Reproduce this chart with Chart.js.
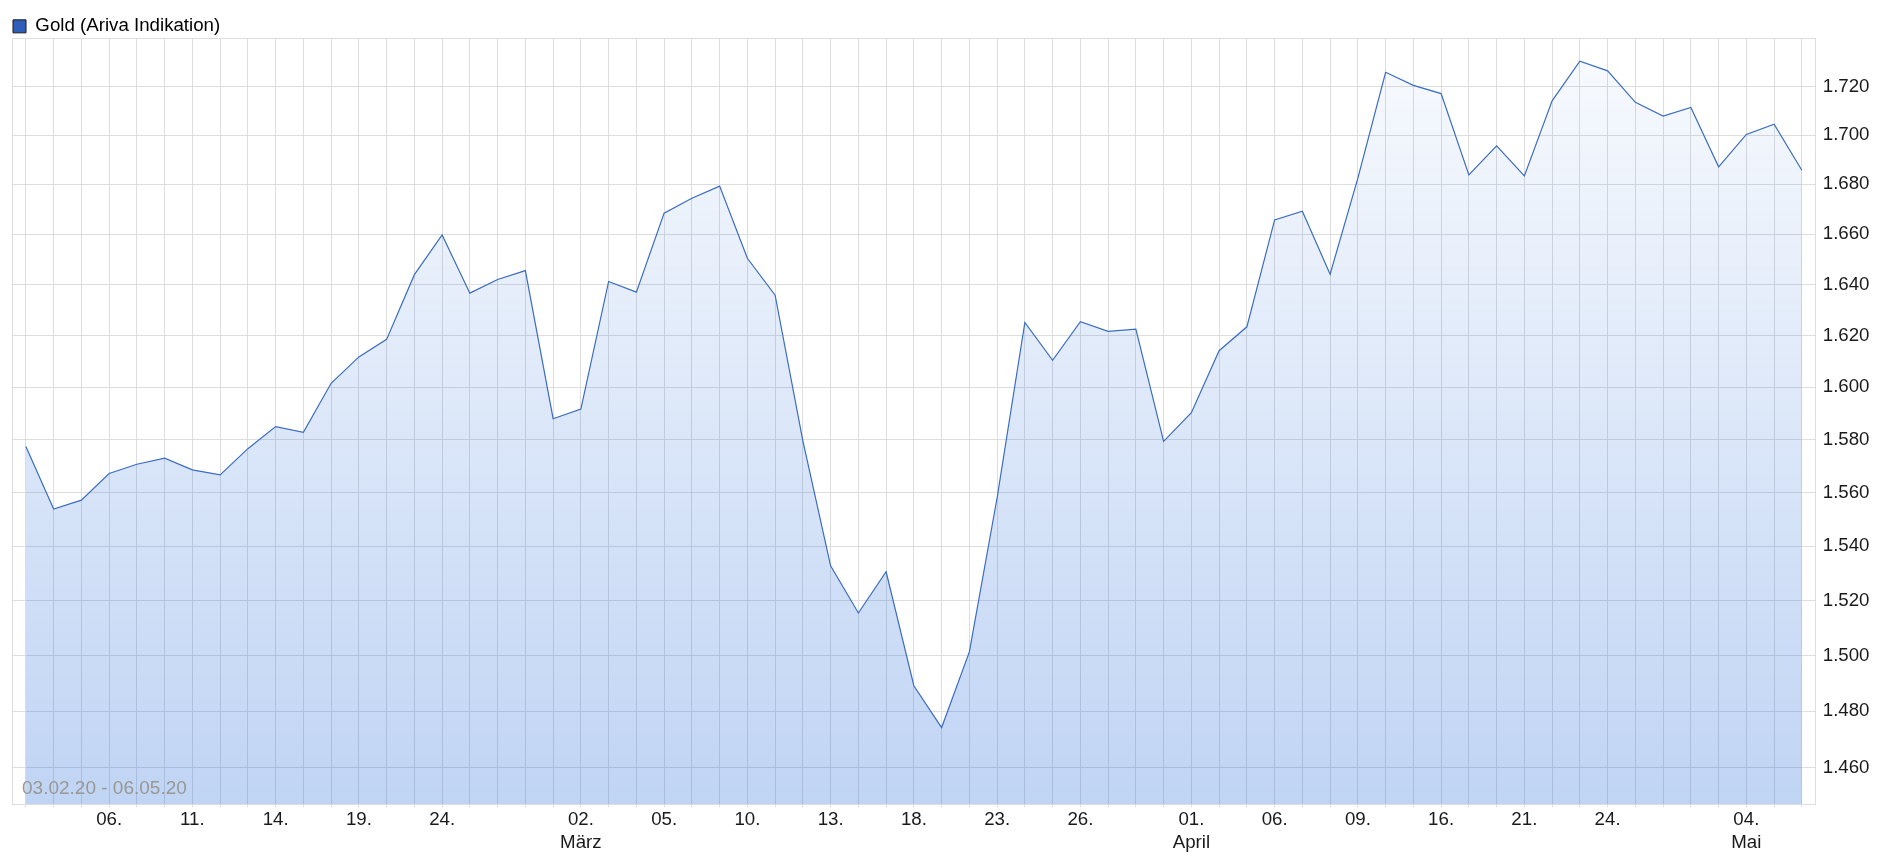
<!DOCTYPE html>
<html lang="de">
<head>
<meta charset="utf-8">
<title>Gold (Ariva Indikation)</title>
<script src="https://cdn.jsdelivr.net/npm/chart.js@4.4.1/dist/chart.umd.min.js"></script>
<style>
    html, body { margin: 0; padding: 0; background: #ffffff; }
    #chartWrap { position: relative; width: 1904px; height: 856px; }
</style>
</head>
<body>
<div id="chartWrap"><canvas id="goldChart"></canvas></div>
<script>
// Trading days 03.02.20 - 06.05.20 (German calendar)
const dates = [
    '03.02.', '04.02.', '05.02.', '06.02.', '07.02.', '10.02.', '11.02.', '12.02.', '13.02.', '14.02.',
    '17.02.', '18.02.', '19.02.', '20.02.', '21.02.', '24.02.', '25.02.', '26.02.', '27.02.', '28.02.',
    '02.03.', '03.03.', '04.03.', '05.03.', '06.03.', '09.03.', '10.03.', '11.03.', '12.03.', '13.03.',
    '16.03.', '17.03.', '18.03.', '19.03.', '20.03.', '23.03.', '24.03.', '25.03.', '26.03.', '27.03.',
    '30.03.', '31.03.', '01.04.', '02.04.', '03.04.', '06.04.', '07.04.', '08.04.', '09.04.', '14.04.',
    '15.04.', '16.04.', '17.04.', '20.04.', '21.04.', '22.04.', '23.04.', '24.04.', '27.04.', '28.04.',
    '29.04.', '30.04.', '04.05.', '05.05.', '06.05.'
];

const goldPrices = [
    1577.3, 1553.8, 1557.1, 1567.1, 1570.6, 1572.9, 1568.5, 1566.6, 1576.5, 1584.9,
    1582.7, 1601.5, 1611.7, 1618.5, 1643.9, 1659.7, 1636.6, 1642.0, 1645.5, 1587.9,
    1591.6, 1641.2, 1637.0, 1668.4, 1674.4, 1679.3, 1650.4, 1635.8, 1579.5, 1532.7,
    1515.4, 1530.5, 1489.1, 1474.2, 1501.3, 1558.0, 1625.1, 1610.4, 1625.4, 1621.6,
    1622.5, 1579.3, 1590.2, 1614.1, 1623.4, 1665.7, 1669.2, 1644.1, 1682.5, 1725.9,
    1720.5, 1717.1, 1683.8, 1695.6, 1683.4, 1714.1, 1730.5, 1726.5, 1713.5, 1707.8,
    1711.4, 1687.1, 1700.3, 1704.5, 1685.7
];

const yTicks = [1460, 1480, 1500, 1520, 1540, 1560, 1580, 1600, 1620, 1640, 1660, 1680, 1700, 1720];

// which dates get a label on the x axis, and where a month name goes under it
const xTickIdx = [3, 6, 9, 12, 15, 20, 23, 26, 29, 32, 35, 38, 42, 45, 48, 51, 54, 57, 62];
const monthTicks = [[20, 'März'], [42, 'April'], [62, 'Mai']];

const seriesLabel = 'Gold (Ariva Indikation)';
const rangeLabel = '03.02.20 - 06.05.20';

document.addEventListener('DOMContentLoaded', () => {
    const fontFamily = "'Liberation Sans', Arial, sans-serif";
    const fontSize = 18.7;
    const gridColor = '#dddddd';
    const lineColor = '#3b6cc4';

    Chart.defaults.font.family = fontFamily;
    Chart.defaults.font.size = fontSize;
    Chart.defaults.color = '#1a1a1a';

    // German thousands separator: 1720 -> 1.720
    function formatPrice(v) {
        const whole = Math.round(v);
        return Math.floor(whole / 1000) + '.' + String(whole % 1000).padStart(3, '0');
    }

    function fillGradient(context) {
        const area = context.chart.chartArea;
        if (!area) return 'rgba(45, 112, 218, 0.15)';
        const g = context.chart.ctx.createLinearGradient(0, area.top, 0, area.bottom);
        g.addColorStop(0, 'rgba(45, 112, 218, 0.03)');
        g.addColorStop(1, 'rgba(45, 112, 218, 0.30)');
        return g;
    }

    // Legend sits tight above the plot
    const legendFit = {
        id: 'legendFit',
        beforeInit(chart) {
            const origFit = chart.legend.fit;
            chart.legend.fit = function () {
                origFit.call(this);
                this.height = 22;
            };
        }
    };

    // Top and left frame of the plot
    const plotFrame = {
        id: 'plotFrame',
        beforeDatasetsDraw(chart) {
            const { ctx, chartArea } = chart;
            ctx.save();
            ctx.strokeStyle = gridColor;
            ctx.lineWidth = 1;
            ctx.beginPath();
            ctx.moveTo(chartArea.left + 0.5, chartArea.bottom);
            ctx.lineTo(chartArea.left + 0.5, chartArea.top + 0.5);
            ctx.lineTo(chartArea.right, chartArea.top + 0.5);
            ctx.stroke();
            ctx.restore();
        }
    };

    // Date range note in the lower left corner
    const rangeNote = {
        id: 'rangeNote',
        afterDatasetsDraw(chart) {
            const { ctx, chartArea } = chart;
            ctx.save();
            ctx.font = '19px ' + fontFamily;
            ctx.fillStyle = '#9a9894';
            ctx.textAlign = 'left';
            ctx.textBaseline = 'middle';
            ctx.fillText(rangeLabel, chartArea.left + 10, chartArea.bottom - 15);
            ctx.restore();
        }
    };

    const ctx = document.getElementById('goldChart').getContext('2d');

    new Chart(ctx, {
        type: 'line',
        data: {
            labels: dates,
            datasets: [{
                label: seriesLabel,
                data: goldPrices,
                borderColor: lineColor,
                borderWidth: 1.2,
                backgroundColor: fillGradient,
                fill: 'start',
                pointRadius: 0,
                pointHoverRadius: 0,
                tension: 0
            }]
        },
        options: {
            responsive: true,
            maintainAspectRatio: false,
            animation: false,
            layout: {
                padding: { left: 12, right: 27.5, top: 16, bottom: 0 }
            },
            plugins: {
                legend: {
                    display: true,
                    position: 'top',
                    align: 'start',
                    labels: {
                        boxWidth: 13,
                        boxHeight: 13,
                        padding: 1,
                        color: '#111111',
                        font: { size: fontSize },
                        generateLabels: (chart) => [{
                            text: chart.data.datasets[0].label,
                            fillStyle: '#2c5eba',
                            strokeStyle: '#1b1b1b',
                            lineWidth: 1,
                            hidden: false,
                            datasetIndex: 0
                        }]
                    }
                },
                tooltip: { enabled: false }
            },
            scales: {
                x: {
                    type: 'category',
                    offset: true,
                    grid: {
                        offset: false,
                        color: gridColor,
                        drawTicks: true,
                        tickLength: 3
                    },
                    border: { display: true, color: gridColor },
                    ticks: {
                        autoSkip: false,
                        maxRotation: 0,
                        minRotation: 0,
                        padding: 2,
                        color: '#1a1a1a',
                        callback: (value, index) => {
                            if (!xTickIdx.includes(index)) return '';
                            const day = dates[index].slice(0, 3);
                            const month = monthTicks.find(m => m[0] === index);
                            return month ? [day, month[1]] : day;
                        }
                    }
                },
                y: {
                    type: 'logarithmic',
                    position: 'right',
                    min: 1447.3,
                    max: 1740.2,
                    afterBuildTicks: (scale) => {
                        scale.ticks = yTicks.map(v => ({ value: v }));
                    },
                    grid: {
                        color: gridColor,
                        drawTicks: false
                    },
                    border: { display: true, color: gridColor },
                    ticks: {
                        padding: 7,
                        color: '#1a1a1a',
                        callback: (value) => formatPrice(value)
                    }
                }
            }
        },
        plugins: [legendFit, plotFrame, rangeNote]
    });
});
</script>
</body>
</html>
